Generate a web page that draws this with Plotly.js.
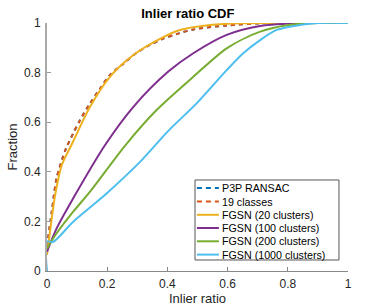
<!DOCTYPE html>
<html>
<head>
<meta charset="utf-8">
<script src="https://cdn.plot.ly/plotly-3.0.1.min.js"></script>
<style>html,body{margin:0;padding:0;background:#fff;}#chart{width:381px;height:306px;}</style>
</head>
<body>
<div id="chart"></div>
<script>
var seriesNames = ["P3P RANSAC", "19 classes", "FGSN (20 clusters)", "FGSN (100 clusters)", "FGSN (200 clusters)", "FGSN (1000 clusters)"];

var p3pX = [0, 0.016, 0.032, 0.062, 0.087, 0.11, 0.143, 0.176, 0.209, 0.253, 0.298, 0.342, 0.386, 0.43, 0.486, 0.597, 0.7, 0.8, 1];
var p3pY = [0.1, 0.24, 0.374, 0.49, 0.555, 0.609, 0.676, 0.735, 0.79, 0.835, 0.88, 0.912, 0.937, 0.955, 0.974, 0.99, 0.998, 1, 1];

var cls19X = [0, 0.016, 0.032, 0.062, 0.087, 0.11, 0.143, 0.176, 0.209, 0.253, 0.298, 0.342, 0.386, 0.43, 0.486, 0.597, 0.7, 0.8, 1];
var cls19Y = [0.1, 0.24, 0.374, 0.49, 0.555, 0.609, 0.676, 0.735, 0.79, 0.835, 0.88, 0.912, 0.937, 0.955, 0.974, 0.99, 0.998, 1, 1];

var f20X = [0, 0.01, 0.027, 0.049, 0.082, 0.143, 0.209, 0.287, 0.375, 0.442, 0.542, 0.65, 0.75, 1];
var f20Y = [0.065, 0.158, 0.306, 0.427, 0.51, 0.662, 0.783, 0.871, 0.936, 0.972, 0.992, 0.999, 1, 1];

var f100X = [0, 0.032, 0.087, 0.193, 0.287, 0.403, 0.486, 0.597, 0.708, 0.85, 1];
var f100Y = [0.078, 0.172, 0.293, 0.508, 0.662, 0.804, 0.878, 0.952, 0.988, 1, 1];

var f200X = [0, 0.032, 0.087, 0.143, 0.259, 0.364, 0.486, 0.597, 0.708, 0.802, 0.9, 1];
var f200Y = [0.091, 0.152, 0.239, 0.32, 0.505, 0.649, 0.783, 0.898, 0.965, 0.992, 1, 1];

var f1000X = [0, 0, 0.021, 0.087, 0.198, 0.309, 0.403, 0.497, 0.597, 0.652, 0.708, 0.763, 0.84, 0.9, 1];
var f1000Y = [0, 0.118, 0.118, 0.199, 0.313, 0.44, 0.565, 0.676, 0.81, 0.878, 0.931, 0.972, 0.992, 1, 1];

var xTicks = [0, 0.2, 0.4, 0.6, 0.8, 1];
var xTickLabels = ["0", "0.2", "0.4", "0.6", "0.8", "1"];
var yTicks = [0, 0.2, 0.4, 0.6, 0.8, 1];
var yTickLabels = ["0", "0.2", "0.4", "0.6", "0.8", "1"];

var colors = ["#0072BD", "#D95319", "#EDB120", "#7E2F8E", "#77AC30", "#4DBEEE"];
var xs = [p3pX, cls19X, f20X, f100X, f200X, f1000X];
var ys = [p3pY, cls19Y, f20Y, f100Y, f200Y, f1000Y];

var traces = [];
for (var i = 0; i < xs.length; i++) {
  traces.push({
    x: xs[i], y: ys[i], name: seriesNames[i], type: "scatter", mode: "lines", showlegend: false,
    line: {color: colors[i], width: 2, dash: i < 2 ? "4px,4px" : "solid", shape: "spline", smoothing: 0.8}
  });
}

var font = "Liberation Sans, Arial, Helvetica, sans-serif";

// compact MATLAB-style legend
var legBox = {x0: 0.4917, x1: 0.970, y0: 0.0444, y1: 0.367};
var legRowY = [0.3347, 0.2802, 0.2266, 0.1734, 0.1198, 0.0661];
var shapes = [{type: "rect", xref: "paper", yref: "paper", x0: legBox.x0, x1: legBox.x1, y0: legBox.y0, y1: legBox.y1,
  line: {color: "#555", width: 1}, fillcolor: "#fff", layer: "above"}];
var annotations = [];
for (var k = 0; k < seriesNames.length; k++) {
  shapes.push({type: "line", xref: "paper", yref: "paper", x0: 0.498, x1: 0.571, y0: legRowY[k], y1: legRowY[k],
    line: {color: colors[k], width: 2, dash: k < 2 ? "5px,4px" : "solid"}, layer: "above"});
  annotations.push({xref: "paper", yref: "paper", x: 0.576, y: legRowY[k], xanchor: "left", yanchor: "middle",
    text: seriesNames[k], showarrow: false, font: {family: font, size: 10.7, color: "#000"}});
}

var layout = {
  width: 381, height: 306,
  margin: {l: 47, r: 33, t: 23, b: 35},
  paper_bgcolor: "#fff", plot_bgcolor: "#fff",
  font: {family: font, size: 12, color: "#262626"},
  title: {text: "<b>Inlier ratio CDF</b>", font: {family: font, size: 13, color: "#000"}, x: 0.493, xanchor: "center", y: 0.956, yanchor: "middle"},
  showlegend: false,
  shapes: shapes,
  annotations: annotations,
  xaxis: {range: [0, 1], tickvals: xTicks, ticktext: xTickLabels, ticks: "inside", ticklen: 4, tickcolor: "#888",
    showline: true, linecolor: "#888", linewidth: 1, showgrid: false, zeroline: false, ticklabelstandoff: 2,
    tickfont: {family: font, size: 12, color: "#262626"},
    title: {text: "Inlier ratio", font: {family: font, size: 13, color: "#262626"}, standoff: 4}},
  yaxis: {range: [0, 1], tickvals: yTicks, ticktext: yTickLabels, ticks: "inside", ticklen: 4, tickcolor: "#999",
    showline: true, linecolor: "#aaa", linewidth: 2, showgrid: false, zeroline: false, ticklabelstandoff: 2,
    tickfont: {family: font, size: 12, color: "#262626"},
    title: {text: "Fraction", font: {family: font, size: 13, color: "#262626"}, standoff: 3}}
};

Plotly.newPlot("chart", traces, layout, {displayModeBar: false, staticPlot: true});
</script>
</body>
</html>
